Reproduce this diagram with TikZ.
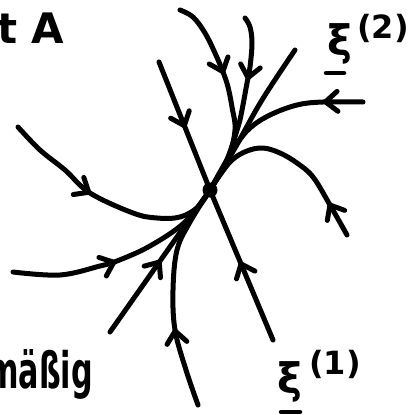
\documentclass[tikz,border=0pt]{standalone}
\usepackage{fontspec}
\setmainfont{DejaVu Sans}
\usepackage{graphicx}
\usetikzlibrary{arrows.meta,decorations.markings}
\begin{document}
\begin{tikzpicture}[x=1pt,y=-1pt,
  traj/.style={line width=5pt, line cap=round, line join=round},
  arr/.style={postaction={decorate}, decoration={markings,
     mark=at position #1 with {\arrow{Straight Barb[length=12pt,width=20pt,round]}}}},
  lab/.style={inner sep=0pt, font=\bfseries\fontsize{42}{42}\selectfont},
  suplab/.style={inner sep=0pt, font=\bfseries\fontsize{32}{32}\selectfont}]
\useasboundingbox (0,0) rectangle (409,415);
\clip (0,0) rectangle (409,415);
% centre
\coordinate (C) at (210,190);
% trajectories from the top
\draw[traj, arr=80pt] plot[smooth, tension=0.6] coordinates {(180,10) (193,17) (205,33) (215,53) (223,72) (228,87) (232,107) (235,130) (228,158) (C)};
\draw[traj, arr=64pt] plot[smooth, tension=0.6] coordinates {(245,18) (250,27) (252,43) (250,67) (247,83) (242,110) (238,127) (226,162) (C)};
\draw[traj, arr=40pt] plot[smooth, tension=0.6] coordinates {(363,102) (323,102) (297,105) (270,115) (250,128) (236,145) (224,165) (C)};
% eigen direction xi(2)
\draw[traj] plot[smooth, tension=0.6] coordinates {(295,50) (262,100) (235,148) (C)};
\draw[traj, arr=88pt] (110,332) -- (C);
% right trajectory
\draw[traj, arr=37pt] plot[smooth, tension=0.6] coordinates {(347,235) (330,205) (313,177) (297,163) (280,153) (263,148) (247,151) (232,160) (220,175) (C)};
% eigen direction xi(1)
\draw[traj, arr=71pt] (159,62) -- (C);
\draw[traj, arr=85pt] (273,340) -- (C);
% left trajectories
\draw[traj, arr=99pt] plot[smooth, tension=0.6] coordinates {(18,127) (40,150) (65,170) (90,193) (133,213) (157,218) (180,217) (198,207) (C)};
\draw[traj, arr=105pt] plot[smooth, tension=0.6] coordinates {(13,272) (60,275) (100,266) (117,261) (150,246) (185,222) (C)};
\draw[traj, arr=80pt] plot[smooth, tension=0.6] coordinates {(198,405) (186,370) (175,330) (173,290) (177,250) (190,222) (C)};
% node
\fill (C) circle (7.5pt);
% labels
\node[lab, anchor=base east] (title) at (64,43) {mit\,\,A};
\node[lab, anchor=base east] (word) at (93,388) {\scalebox{0.72}[1.2]{mäßig}};
\node[lab] (xitwo) at (340,44) {ξ};
\draw[line width=4.5pt, line cap=round] (326,73) -- (344,73);
\node[suplab] (suptwo) at (383,28) {(2)};
\node[lab] (xione) at (290,382) {ξ};
\draw[line width=4.5pt, line cap=round] (281,412) -- (300,412);
\node[suplab] (supone) at (335,364) {(1)};
\end{tikzpicture}
\end{document}
